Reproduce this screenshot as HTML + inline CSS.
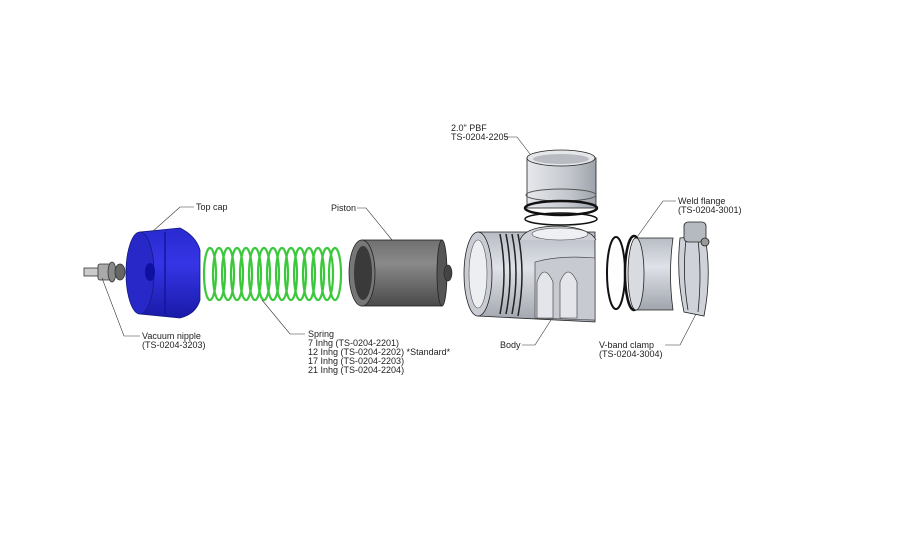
<!DOCTYPE html>
<html><head><meta charset="utf-8"><style>
html,body{margin:0;padding:0;background:#fff;}
svg{display:block}
text{font-family:"Liberation Sans",sans-serif;font-size:9px;fill:#222;}
</style></head><body>
<svg width="906" height="546" viewBox="0 0 906 546" xmlns="http://www.w3.org/2000/svg">
<defs>
<linearGradient id="blue" x1="0" y1="0" x2="0" y2="1">
<stop offset="0" stop-color="#2a2ad0"/><stop offset="0.4" stop-color="#3535e6"/><stop offset="1" stop-color="#1a1aa8"/></linearGradient>
<linearGradient id="gray" x1="0" y1="0" x2="0" y2="1">
<stop offset="0" stop-color="#707070"/><stop offset="0.35" stop-color="#8a8a8a"/><stop offset="1" stop-color="#4a4a4a"/></linearGradient>
<linearGradient id="lt" x1="0" y1="0" x2="0" y2="1">
<stop offset="0" stop-color="#b8bcc4"/><stop offset="0.4" stop-color="#dfe2e8"/><stop offset="1" stop-color="#a0a4ac"/></linearGradient>
<linearGradient id="ltv" x1="0" y1="0" x2="1" y2="0">
<stop offset="0" stop-color="#e6e8ec"/><stop offset="0.6" stop-color="#c4c8ce"/><stop offset="1" stop-color="#9ea2aa"/></linearGradient>
</defs>

<!-- vacuum nipple -->
<g stroke="#333" stroke-width="0.8">
<rect x="84" y="268" width="18" height="8" fill="#ccc"/>
<rect x="98" y="264" width="14" height="16" rx="2" fill="#aaa"/>
<ellipse cx="112" cy="272" rx="4" ry="10" fill="#888"/>
<ellipse cx="120" cy="272" rx="5" ry="8" fill="#666"/>
</g>

<!-- top cap -->
<path d="M140 232 L180 228 Q196 236 200 250 L200 300 Q196 314 180 318 L140 314 Z" fill="url(#blue)" stroke="#111a80" stroke-width="0.8"/>
<ellipse cx="140" cy="273" rx="14" ry="41" fill="#2828c8" stroke="#111a80" stroke-width="0.8"/>
<path d="M165 232 L165 314" stroke="#1515a0" stroke-width="1.5"/>
<ellipse cx="150" cy="272" rx="5" ry="9" fill="#1010a0"/>

<!-- spring -->
<g fill="none" stroke="#3cc83c" stroke-width="2.2">
<ellipse cx="210" cy="274" rx="6" ry="26"/>
<ellipse cx="219" cy="274" rx="6" ry="26"/>
<ellipse cx="228" cy="274" rx="6" ry="26"/>
<ellipse cx="237" cy="274" rx="6" ry="26"/>
<ellipse cx="246" cy="274" rx="6" ry="26"/>
<ellipse cx="255" cy="274" rx="6" ry="26"/>
<ellipse cx="264" cy="274" rx="6" ry="26"/>
<ellipse cx="273" cy="274" rx="6" ry="26"/>
<ellipse cx="282" cy="274" rx="6" ry="26"/>
<ellipse cx="291" cy="274" rx="6" ry="26"/>
<ellipse cx="300" cy="274" rx="6" ry="26"/>
<ellipse cx="309" cy="274" rx="6" ry="26"/>
<ellipse cx="318" cy="274" rx="6" ry="26"/>
<ellipse cx="327" cy="274" rx="6" ry="26"/>
<ellipse cx="335" cy="274" rx="6" ry="26"/>
</g>

<!-- piston -->
<rect x="362" y="240" width="80" height="66" fill="url(#gray)" stroke="#222" stroke-width="0.8"/>
<ellipse cx="442" cy="273" rx="5" ry="33" fill="#555" stroke="#222" stroke-width="0.8"/>
<ellipse cx="448" cy="273" rx="4" ry="8" fill="#444" stroke="#222" stroke-width="0.6"/>
<ellipse cx="362" cy="273" rx="13" ry="33" fill="#777" stroke="#222" stroke-width="0.8"/>
<ellipse cx="363" cy="273" rx="9" ry="27" fill="#3a3a3a"/>

<!-- PBF -->
<rect x="527" y="158" width="69" height="50" fill="url(#ltv)" stroke="#222" stroke-width="0.8"/>
<ellipse cx="561" cy="158" rx="34" ry="8" fill="#e4e6ea" stroke="#222" stroke-width="0.8"/>
<ellipse cx="561" cy="159" rx="28" ry="5" fill="#b8bcc2"/>
<ellipse cx="561" cy="195" rx="35" ry="6" fill="none" stroke="#555" stroke-width="1"/>
<ellipse cx="561" cy="208" rx="36" ry="7" fill="none" stroke="#111" stroke-width="2.5"/>
<ellipse cx="561" cy="219" rx="36" ry="6" fill="none" stroke="#111" stroke-width="1.5"/>

<!-- body -->
<path d="M478 232 L595 232 L595 322 L478 316 Z" fill="url(#lt)" stroke="#222" stroke-width="0.8"/>
<path d="M520 240 Q525 226 560 226 Q590 228 596 240" fill="#cdd0d6" stroke="#222" stroke-width="0.8"/>
<ellipse cx="560" cy="234" rx="28" ry="6" fill="#eef0f3" stroke="#444" stroke-width="0.6"/>
<path d="M535 262 Q560 255 595 258 L595 320 L535 318 Z" fill="#c7cad0" stroke="#333" stroke-width="0.6"/>
<path d="M537 318 L537 282 Q544 262 553 282 L553 318 Z" fill="#e3e5ea" stroke="#333" stroke-width="0.6"/>
<path d="M560 318 L560 282 Q568 262 577 282 L577 318 Z" fill="#e3e5ea" stroke="#333" stroke-width="0.6"/>
<ellipse cx="478" cy="274" rx="14" ry="42" fill="#c9ccd3" stroke="#222" stroke-width="0.8"/>
<ellipse cx="478" cy="274" rx="9" ry="34" fill="#eceef1" stroke="#555" stroke-width="0.6"/>
<g fill="none" stroke="#222" stroke-width="1.5">
<path d="M500 234 Q508 274 500 314"/><path d="M506 234 Q514 274 506 314"/><path d="M512 234 Q520 274 512 314"/><path d="M518 234 Q526 274 518 316"/>
</g>

<!-- o-rings -->
<ellipse cx="616" cy="273" rx="9" ry="36" fill="none" stroke="#111" stroke-width="2"/>
<ellipse cx="634" cy="273" rx="9" ry="37" fill="none" stroke="#111" stroke-width="2.5"/>

<!-- weld flange -->
<path d="M636 238 L673 238 Q668 274 673 310 L636 310 Z" fill="url(#lt)" stroke="#222" stroke-width="0.8"/>
<ellipse cx="636" cy="274" rx="8" ry="36" fill="#d8dbe0" stroke="#222" stroke-width="0.8"/>

<!-- clamp -->
<g stroke="#222" stroke-width="0.8">
<path d="M680 238 Q676 275 684 312 L704 316 Q712 275 705 236 Z" fill="#cfd2d8"/>
<path d="M686 240 Q682 275 688 310 M698 240 Q702 275 698 312" fill="none"/>
<rect x="684" y="222" width="22" height="20" rx="4" fill="#b5b9c0"/>
<circle cx="705" cy="242" r="4" fill="#999"/>
</g>

<!-- leaders -->
<g fill="none" stroke="#333" stroke-width="0.6">
<path d="M194 207 L180 207 L152 232"/>
<path d="M357 208 L366 208 L392 240"/>
<path d="M140 336 L124 336 L102 278"/>
<path d="M305 334 L290 334 L262 300"/>
<path d="M505 137 L517 137 L530 154"/>
<path d="M676 201 L663 201 L637 237"/>
<path d="M522 345 L535 345 L551 320"/>
<path d="M665 345 L680 345 L696 314"/>
</g>

<text x="196" y="210">Top cap</text>
<text x="331" y="211">Piston</text>
<text x="142" y="339">Vacuum nipple</text>
<text x="142" y="348">(TS-0204-3203)</text>
<text x="308" y="337">Spring</text>
<text x="308" y="346">7 Inhg (TS-0204-2201)</text>
<text x="308" y="355">12 Inhg (TS-0204-2202) *Standard*</text>
<text x="308" y="364">17 Inhg (TS-0204-2203)</text>
<text x="308" y="373">21 Inhg (TS-0204-2204)</text>
<text x="451" y="131">2.0" PBF</text>
<text x="451" y="140">TS-0204-2205</text>
<text x="678" y="204">Weld flange</text>
<text x="678" y="213">(TS-0204-3001)</text>
<text x="500" y="348">Body</text>
<text x="599" y="348">V-band clamp</text>
<text x="599" y="357">(TS-0204-3004)</text>
</svg>
</body></html>
